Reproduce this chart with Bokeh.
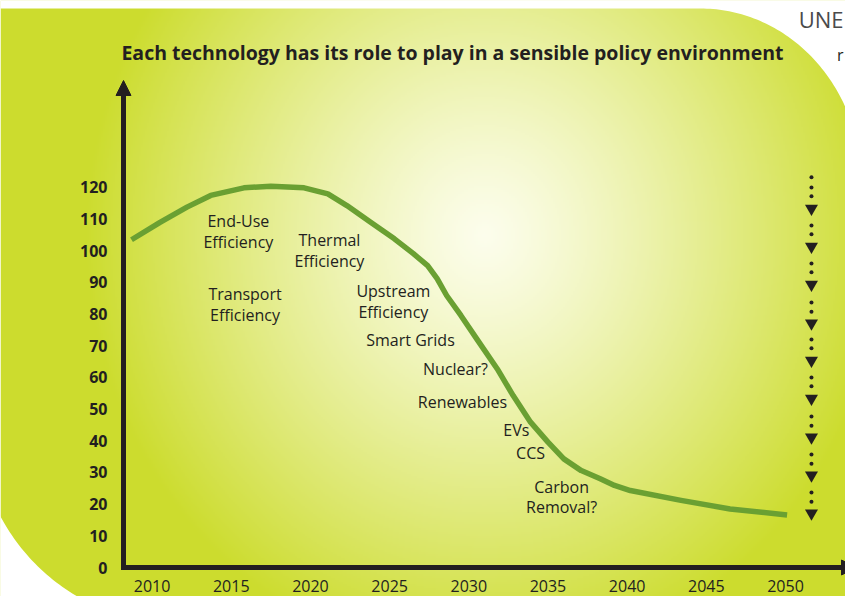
import numpy as np
from bokeh.plotting import figure
from bokeh.models import Range1d, LinearAxis, FixedTicker, Arrow, NormalHead, Label
from bokeh.core.properties import value
from bokeh.embed import file_html
from bokeh.resources import INLINE

# ---------------- data ----------------
years = [2008.7, 2010.5, 2012.2, 2013.7, 2015.8, 2017.5, 2019.6, 2021.1, 2022.3,
         2023.8, 2025.3, 2026.5, 2027.4, 2028.0, 2028.6, 2029.5, 2030.5, 2031.8,
         2032.8, 2033.9, 2035.0, 2036.0, 2037.1, 2038.3, 2039.2, 2040.2, 2043.4,
         2046.5, 2050.1]
values = [103.5, 109.0, 113.8, 117.5, 119.9, 120.4, 119.9, 118.0, 114.3,
          109.0, 103.8, 99.1, 95.3, 91.2, 85.9, 79.6, 72.2, 62.7,
          54.3, 45.9, 39.6, 34.3, 30.6, 28.0, 25.9, 24.3, 21.2,
          18.5, 16.6]

x_ticks = [2010, 2015, 2020, 2025, 2030, 2035, 2040, 2045, 2050]
y_ticks = [0, 10, 20, 30, 40, 50, 60, 70, 80, 90, 100, 110, 120]

tech_labels = ["End-Use\nEfficiency", "Thermal\nEfficiency", "Transport\nEfficiency",
               "Upstream\nEfficiency", "Smart Grids", "Nuclear?", "Renewables",
               "EVs", "CCS", "Carbon\nRemoval?"]
label_x = [2015.45, 2021.2, 2015.87, 2025.24, 2026.32, 2029.16, 2029.6, 2033.0, 2033.9, 2035.86]
label_y = [106.1, 100.1, 83.05, 84.0, 71.7, 62.8, 52.4, 43.3, 36.3, 22.3]

# dotted arrow column near 2050
arrow_col_x = 2051.64
arrow_tri_y = [113.4, 101.4, 89.4, 77.1, 65.4, 53.4, 41.1, 29.1, 17.1]
arrow_dot_y = [123.2, 120.0, 117.2, 108.0, 105.2, 96.0, 93.2, 83.7, 80.8, 72.0, 69.2,
               60.0, 57.2, 47.7, 44.8, 35.7, 32.8, 23.7, 20.8]

title_text = "Each technology has its role to play in a sensible policy environment"

# ---------------- layout helpers (canvas pixels -> data) ----------------
W, H = 845, 596
X2010, PXY = 151.6, 15.835
Y0, PXV = 567.0, 3.1667


def X(cx):
    return 2010 + (cx - X2010) / PXY


def Y(cy):
    return (Y0 - cy) / PXV


INK = "#231f20"

p = figure(width=W, height=H, x_range=Range1d(X(0), X(W)), y_range=Range1d(Y(H), Y(0)),
           x_axis_type=None, y_axis_type=None, toolbar_location=None,
           output_backend="svg", min_border=0)
p.outline_line_color = None
p.background_fill_color = "white"
p.border_fill_color = "white"

# radial gradient background
gw, gh = W // 2 + 1, H // 2 + 1
gx = (np.arange(gw) + 0.5) * W / gw
gy = (np.arange(gh) + 0.5) * H / gh
XX, YY = np.meshgrid(gx, gy)
t = np.sqrt(((XX - 485) / 400.0) ** 2 + ((YY - 235) / 430.0) ** 2)
f = np.clip(t, 0, 1) ** 1.2
inner = np.array([252, 253, 236], dtype=float)
outer = np.array([204, 220, 46], dtype=float)
rgb = inner + (outer - inner) * f[..., None]
rgb = rgb[::-1]
img = np.zeros((gh, gw), dtype=np.uint32)
view = img.view(dtype=np.uint8).reshape((gh, gw, 4))
view[..., 0:3] = np.round(rgb).astype(np.uint8)
view[..., 3] = 255
p.image_rgba(image=[img], x=X(0), y=Y(H), dw=X(W) - X(0), dh=Y(0) - Y(H))

# white page around the rounded shape
th = np.linspace(0, np.pi / 2, 80)
tr_px = list(700 + 161 * np.cos(th)) + [-20, -20, 900, 900]
tr_py = list(183 - 175 * np.sin(th)) + [8, -20, -20, 183]
p.patch([X(v) for v in tr_px], [Y(v) for v in tr_py], fill_color="white", line_color=None)
bl_px = list(180 - 204 * np.cos(th)) + [180, -40, -40]
bl_py = list(420 + 204 * np.sin(th)) + [650, 650, 420]
p.patch([X(v) for v in bl_px], [Y(v) for v in bl_py], fill_color="white", line_color=None)

# curve
p.line(years, values, line_width=5.5, line_color="#6aa032", line_join="round", line_cap="butt")

# technology labels
p.text(x=label_x, y=label_y, text=tech_labels, text_align="center", text_baseline="middle",
       text_font=value("Open Sans"), text_font_size="16px", text_color=INK,
       text_line_height=0.92)

# dotted arrow column
p.scatter([arrow_col_x] * len(arrow_dot_y), arrow_dot_y, marker="circle", size=4,
          fill_color=INK, line_color=None)
p.scatter([arrow_col_x] * len(arrow_tri_y), arrow_tri_y, marker="inverted_triangle", size=13,
          fill_color=INK, line_color=None)

# axes (labels only) + arrow lines
yax = LinearAxis(fixed_location=X(123), ticker=FixedTicker(ticks=y_ticks))
xax = LinearAxis(fixed_location=0, ticker=FixedTicker(ticks=x_ticks))
for ax in (xax, yax):
    ax.axis_line_color = None
    ax.major_tick_line_color = None
    ax.minor_tick_line_color = None
    ax.major_tick_in = 0
    ax.major_tick_out = 0
    ax.major_label_text_font = "Open Sans"
    ax.major_label_text_color = INK
yax.major_label_standoff = 16
yax.major_label_text_font_style = "bold"
yax.major_label_text_font_size = "16px"
xax.major_label_standoff = 12
xax.major_label_text_font_size = "16px"
p.add_layout(yax, "left")
p.add_layout(xax, "below")

head = dict(size=15, fill_color=INK, line_color=INK, line_width=1)
p.add_layout(Arrow(end=NormalHead(**head), x_start=X(123), y_start=Y(569),
                   x_end=X(123), y_end=Y(80), line_color=INK, line_width=5))
p.add_layout(Arrow(end=NormalHead(**head), x_start=X(120.5), y_start=0,
                   x_end=X(856), y_end=0, line_color=INK, line_width=5))

# title and page fragments
p.add_layout(Label(x=452, y=H - 52, x_units="screen", y_units="screen",
                   text=title_text, text_align="center", text_baseline="middle",
                   text_font="Open Sans", text_font_style="bold", text_font_size="19.5px",
                   text_color=INK))
p.add_layout(Label(x=843, y=H - 18, x_units="screen", y_units="screen",
                   text="UNE", text_align="right", text_baseline="middle",
                   text_font="Open Sans", text_font_size="22px",
                   text_color="#4a4a4a"))
p.add_layout(Label(x=843, y=H - 54, x_units="screen", y_units="screen",
                   text="r", text_align="right", text_baseline="middle",
                   text_font="Open Sans", text_font_size="16px", text_color=INK))

open("out.html", "w").write(file_html(p, INLINE))
